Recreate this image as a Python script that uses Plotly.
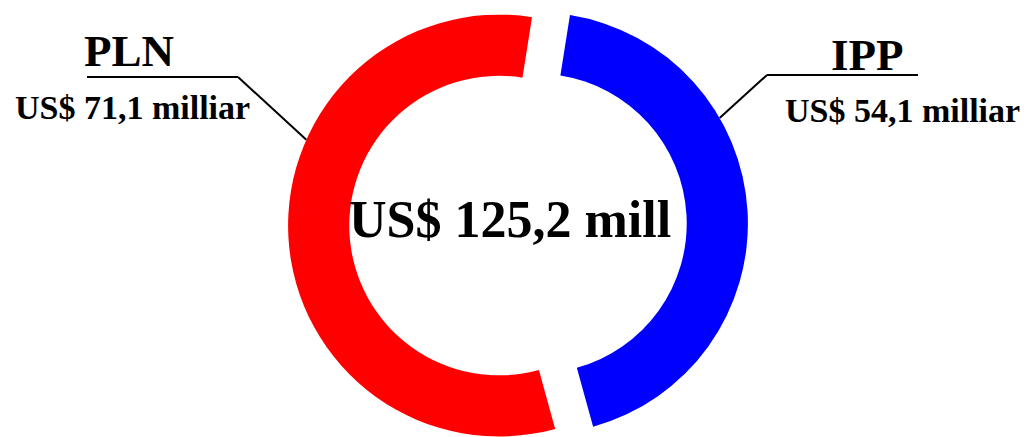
import math
import plotly.graph_objects as go

# ---- data ----
labels = ["IPP", "PLN"]
values = [54.1, 71.1]
colors = ["#0000FF", "#FF0000"]
value_text = ["US$ 54,1 milliar", "US$ 71,1 milliar"]
total_text = "US$ 125,2 mill"

# ---- layout constants (pixels) ----
W, H = 1032, 437
ROT = 9            # first slice starts 9 deg clockwise from 12 o'clock
HOLE = 0.71
CX, TOP = 518, 12  # ring centre x, ring top
GAP = 19           # each slice is moved this far out from the centre (exploded look)
FONT = "Liberation Serif"

total = sum(values)

# bisector angle of each slice -> direction in which it is exploded
mids = []
a = ROT
for v in values:
    a1 = a + 360 * v / total
    mids.append((a + a1) / 2)
    a = a1

dymax = max(abs(GAP * math.cos(math.radians(m))) for m in mids)
CY = (H + TOP) / 2
R = (H - TOP) / 2 - dymax - 0.5


def clip01(v):
    return min(1.0, max(0.0, v))


traces = []
centers = []
for i in range(len(values)):
    m = math.radians(mids[i])
    sx = CX + GAP * math.sin(m)
    sy = CY - GAP * math.cos(m)
    centers.append((sx, sy))
    cols = [c if j == i else "rgba(0,0,0,0)" for j, c in enumerate(colors)]
    traces.append(
        go.Pie(
            labels=labels,
            values=values,
            marker=dict(colors=cols, line=dict(width=0)),
            hole=HOLE,
            rotation=ROT,
            direction="clockwise",
            sort=False,
            textinfo="none",
            hoverinfo="label+value",
            showlegend=False,
            domain=dict(
                x=[clip01((sx - R) / W), clip01((sx + R) / W)],
                y=[clip01(1 - (sy + R) / H), clip01(1 - (sy - R) / H)],
            ),
        )
    )

fig = go.Figure(traces)


def px(x, y):
    return x / W, 1 - y / H


def edge_point(i, ang_deg):
    t = math.radians(ang_deg)
    x0, y0 = centers[i]
    return x0 + R * math.sin(t), y0 - R * math.cos(t)


# label placement (pixels)
label_layout = {
    "PLN": dict(nx=129, ny=51, vx=132, vy=107, ux0=87, ux1=238, uy=77, elbow=238, ang=294),
    "IPP": dict(nx=867, ny=55, vx=902, vy=111, ux0=767, ux1=918, uy=75, elbow=767, ang=60),
}

shapes = []
annotations = []
for i, name in enumerate(labels):
    L = label_layout[name]
    x0, y0 = px(L["ux0"], L["uy"])
    x1, y1 = px(L["ux1"], L["uy"])
    shapes.append(dict(type="line", xref="paper", yref="paper", x0=x0, y0=y0, x1=x1, y1=y1,
                       line=dict(color="black", width=2)))
    ex, ey = edge_point(i, L["ang"])
    bx, by = px(L["elbow"], L["uy"])
    qx, qy = px(ex, ey)
    shapes.append(dict(type="line", xref="paper", yref="paper", x0=bx, y0=by, x1=qx, y1=qy,
                       line=dict(color="black", width=2)))
    ax_, ay_ = px(L["nx"], L["ny"])
    annotations.append(dict(text=name, x=ax_, y=ay_, xref="paper", yref="paper", showarrow=False,
                            xanchor="center", yanchor="middle",
                            font=dict(family=FONT, size=45, color="black", weight="bold")))
    vx, vy = px(L["vx"], L["vy"])
    annotations.append(dict(text=value_text[i], x=vx, y=vy, xref="paper", yref="paper", showarrow=False,
                            xanchor="center", yanchor="middle",
                            font=dict(family=FONT, size=34, color="black", weight="bold")))

tx, ty = px(510, 219)
annotations.append(dict(text=total_text, x=tx, y=ty, xref="paper", yref="paper", showarrow=False,
                        xanchor="center", yanchor="middle",
                        font=dict(family=FONT, size=52, color="black", weight="bold")))

fig.update_layout(
    width=W, height=H,
    margin=dict(l=0, r=0, t=0, b=0),
    paper_bgcolor="white", plot_bgcolor="white",
    shapes=shapes, annotations=annotations,
)

fig.write_html("out.html", config={"displayModeBar": False},
               post_script="document.body.style.margin='0';")
